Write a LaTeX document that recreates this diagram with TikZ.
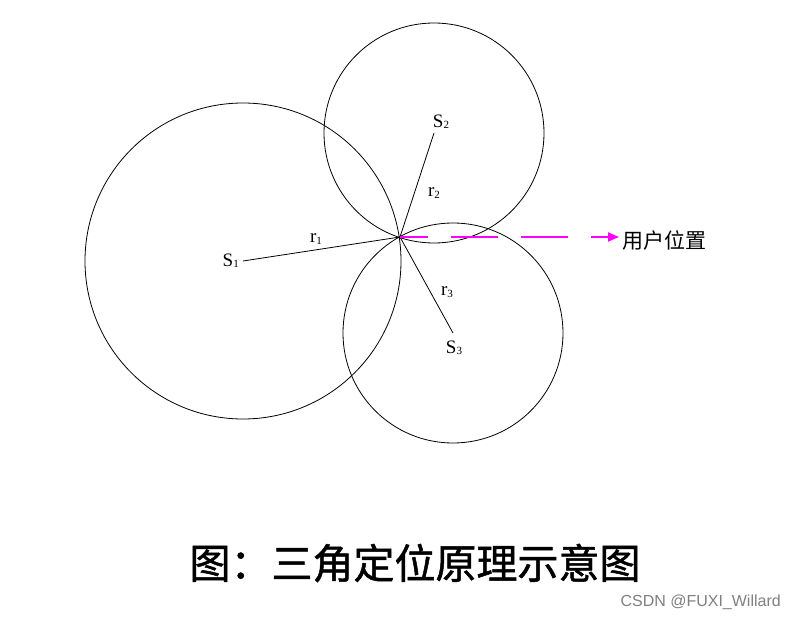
\documentclass[tikz,border=0pt]{standalone}
\usepackage{fontspec}
\setmainfont{Liberation Serif}
\newfontfamily\cjk{Noto Sans CJK SC}
\newfontfamily\capfont[FakeBold=1.2]{Noto Sans CJK SC}
\newfontfamily\wmfont{Liberation Sans}
\usetikzlibrary{arrows.meta}
\definecolor{usermag}{RGB}{255,0,255}
\begin{document}
\begin{tikzpicture}[x=1pt,y=-1pt,
  circ/.style={draw=black,line width=0.8pt},
  radius line/.style={draw=black,line width=0.8pt},
  lbl/.style={inner sep=0pt,font=\fontsize{19}{19}\selectfont},
  userarrow/.style={draw=usermag,line width=2pt,dash pattern=on 47pt off 23pt,dash phase=19pt,
    -{Triangle[length=11pt,width=9pt]}}]
\useasboundingbox[fill=white] (0,0) rectangle (795,620);
\coordinate (S1) at (243,261);
\coordinate (S2) at (434,133);
\coordinate (S3) at (453,333);
\coordinate (U) at (400,237);
\coordinate (T) at (619,237);
\draw[circ] (S1) circle[radius=158];
\draw[circ] (S2) circle[radius=110];
\draw[circ] (S3) circle[radius=110];
\draw[radius line] (S1) -- (U);
\draw[radius line] (U) -- (S2);
\draw[radius line] (U) -- (S3);
\node[lbl,anchor=east] (l1) at (239,261) {S\raisebox{-0.15ex}{\fontsize{11}{11}\selectfont 1}};
\node[lbl] (lr1) at (316,239) {r\raisebox{-0.15ex}{\fontsize{11}{11}\selectfont 1}};
\node[lbl] (l2) at (441,122) {S\raisebox{-0.15ex}{\fontsize{11}{11}\selectfont 2}};
\node[lbl] (lr2) at (434,193) {r\raisebox{-0.15ex}{\fontsize{11}{11}\selectfont 2}};
\node[lbl] (lr3) at (447,292) {r\raisebox{-0.15ex}{\fontsize{11}{11}\selectfont 3}};
\node[lbl] (l3) at (454,348) {S\raisebox{-0.15ex}{\fontsize{11}{11}\selectfont 3}};
\node[inner sep=0pt,anchor=west,font=\cjk\fontsize{21}{21}\selectfont] (user) at (622,241) {用户位置};
\draw[userarrow] (U) -- (T);
\node[inner sep=0pt,font=\capfont\fontsize{41}{41}\selectfont] (cap) at (415,563) {图：三角定位原理示意图};
\node[inner sep=0pt,anchor=east,text=black!50,font=\wmfont\fontsize{16}{16}\selectfont] (wm) at (781,602) {CSDN @FUXI\_Willard};
\end{tikzpicture}
\end{document}
